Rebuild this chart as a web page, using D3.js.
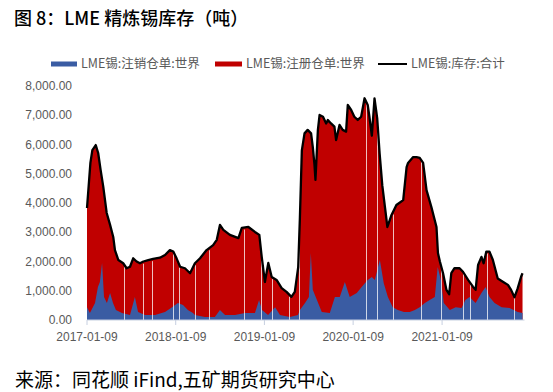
<!DOCTYPE html>
<html>
<head>
<meta charset="utf-8">
<script src="https://cdn.jsdelivr.net/npm/d3@7"></script>
<style>
  body { margin: 0; background: #fff; }
  svg text { font-family: "Liberation Sans", Arial, sans-serif; }
  .cjk { font-family: "Noto Sans CJK SC", sans-serif; }
</style>
</head>
<body>
<svg id="chart" width="553" height="392"></svg>
<script>
// LME锡:库存:合计 (total stock)
const totalDates = [
  "2017-01-09", "2017-01-23", "2017-01-31", "2017-02-14", "2017-02-24", "2017-03-06", "2017-03-17",
  "2017-03-31", "2017-04-14", "2017-04-27", "2017-05-04", "2017-05-18", "2017-06-07", "2017-06-21",
  "2017-07-05", "2017-07-18", "2017-08-01", "2017-08-15", "2017-08-29", "2017-09-18", "2017-10-08",
  "2017-11-05", "2017-11-26", "2017-12-16", "2017-12-30", "2018-01-13", "2018-01-27", "2018-02-16",
  "2018-03-09", "2018-03-29", "2018-04-19", "2018-05-16", "2018-06-12", "2018-06-27", "2018-07-10",
  "2018-07-24", "2018-08-20", "2018-09-24", "2018-10-08", "2018-11-04", "2018-12-01", "2018-12-19",
  "2018-12-29", "2019-01-11", "2019-01-25", "2019-02-08", "2019-02-28", "2019-03-21", "2019-04-10",
  "2019-04-30", "2019-05-14", "2019-05-28", "2019-06-04", "2019-06-12", "2019-06-23", "2019-07-06",
  "2019-07-20", "2019-07-27", "2019-08-03", "2019-08-07", "2019-08-17", "2019-08-24", "2019-09-07",
  "2019-09-20", "2019-09-27", "2019-10-10", "2019-10-24", "2019-10-31", "2019-11-14", "2019-11-27",
  "2019-12-11", "2019-12-18", "2020-01-01", "2020-01-14", "2020-01-28", "2020-02-11", "2020-02-25",
  "2020-03-09", "2020-03-16", "2020-03-26", "2020-04-06", "2020-04-17", "2020-04-27", "2020-05-08",
  "2020-05-29", "2020-06-08", "2020-06-15", "2020-07-05", "2020-08-02", "2020-08-16", "2020-08-22",
  "2020-09-12", "2020-09-26", "2020-10-09", "2020-10-23", "2020-11-06", "2020-11-26", "2020-12-17",
  "2020-12-23", "2020-12-31", "2021-01-13", "2021-01-27", "2021-02-07", "2021-02-16", "2021-03-01",
  "2021-03-22", "2021-04-05", "2021-04-26", "2021-05-16", "2021-05-27", "2021-06-06", "2021-06-20",
  "2021-06-29", "2021-07-10", "2021-07-23", "2021-08-06", "2021-08-26", "2021-09-16", "2021-10-07",
  "2021-10-20", "2021-11-03", "2021-11-16", "2021-11-30", "2021-12-06"
];
const totalValues = [
  3830, 5370, 5810, 5980, 5710, 5130, 4550,
  3660, 3250, 2840, 2390, 2050, 1940, 1770,
  1820, 2110, 2000, 1940, 2000, 2050, 2090,
  2130, 2220, 2390, 2340, 2100, 1820, 1770,
  1600, 1940, 2110, 2390, 2560, 2740, 3250,
  3080, 2910, 2800, 3150, 3180, 3010, 2910,
  2150, 1300, 1950, 1470, 1370, 1090, 960,
  790, 960, 1810, 3500, 5800, 6380, 6500,
  6380, 5920, 5300, 4790, 6500, 7010, 6950,
  6720, 6840, 6720, 6610, 6150, 6670, 6500,
  6440, 7350, 7180, 6950, 6840, 6950, 7580,
  7350, 6950, 6300, 7580, 6900, 5700, 4600,
  3180, 3420, 3590, 3930, 4100, 5230, 5370,
  5570, 5570, 5540, 5370, 4440, 3860, 3180,
  2290, 2000, 1600, 1030, 880, 1600, 1770,
  1770, 1650, 1370, 1140, 1030, 1880, 2160,
  1940, 2340, 2340, 2050, 1420, 1310, 1200,
  1030, 780, 1080, 1480, 1600
];

// LME锡:注销仓单:世界 (cancelled warrants)
const cancelDates = [
  "2017-01-09", "2017-01-21", "2017-02-11", "2017-02-23", "2017-03-03", "2017-03-12", "2017-03-20",
  "2017-04-01", "2017-04-14", "2017-04-26", "2017-05-08", "2017-06-02", "2017-07-05", "2017-07-25",
  "2017-08-07", "2017-09-05", "2017-10-16", "2017-11-26", "2017-12-25", "2018-01-18", "2018-02-08",
  "2018-02-28", "2018-03-21", "2018-03-29", "2018-05-09", "2018-06-19", "2018-07-10", "2018-07-31",
  "2018-09-10", "2018-10-21", "2018-12-01", "2018-12-18", "2018-12-30", "2019-01-24", "2019-02-22",
  "2019-03-14", "2019-04-24", "2019-05-27", "2019-06-04", "2019-06-25", "2019-07-11", "2019-07-19",
  "2019-07-27", "2019-08-13", "2019-09-02", "2019-10-05", "2019-10-26", "2019-11-15", "2019-12-06",
  "2019-12-26", "2020-01-24", "2020-02-13", "2020-03-09", "2020-03-26", "2020-04-07", "2020-04-28",
  "2020-05-14", "2020-05-31", "2020-06-20", "2020-07-11", "2020-08-05", "2020-08-29", "2020-09-19",
  "2020-10-09", "2020-10-30", "2020-11-19", "2020-12-10", "2020-12-22", "2021-01-04", "2021-01-16",
  "2021-02-10", "2021-03-06", "2021-03-30", "2021-04-15", "2021-05-02", "2021-05-27", "2021-06-20",
  "2021-07-07", "2021-07-23", "2021-08-13", "2021-09-11", "2021-10-14", "2021-11-16", "2021-12-06"
];
const cancelValues = [
  440, 240, 580, 1130, 1300, 1950, 790,
  580, 920, 580, 340, 240, 170, 790,
  270, 170, 170, 270, 440, 580, 510,
  340, 240, 170, 100, 100, 340, 170,
  170, 240, 240, 680, 340, 170, 440,
  170, 100, 170, 340, 580, 790, 2290,
  1030, 680, 270, 240, 790, 790, 1300,
  790, 920, 1130, 1370, 1470, 1370, 2050,
  1260, 790, 440, 340, 270, 270, 340,
  440, 580, 680, 790, 1810, 1370, 580,
  340, 440, 410, 680, 790, 580, 920,
  1130, 790, 580, 440, 410, 270, 240
];

// weeks with a missing value, shown as thin white gaps in the areas
const gapDates = [
  "2017-06-10", "2017-08-27", "2017-10-03", "2017-12-29", "2018-01-22", "2018-03-29", "2018-05-26",
  "2018-10-17", "2018-12-26", "2019-02-09", "2019-04-20", "2019-05-31", "2020-03-01", "2020-04-15",
  "2020-06-20", "2020-10-13", "2021-01-04", "2021-04-04", "2021-05-03", "2021-07-12", "2021-10-30"
];

const yTicks = [0, 1000, 2000, 3000, 4000, 5000, 6000, 7000, 8000];
const xTickLabels = ["2017-01-09", "2018-01-09", "2019-01-09", "2020-01-09", "2021-01-09"];
const legendLabels = ["LME锡:注销仓单:世界", "LME锡:注册仓单:世界", "LME锡:库存:合计"];

const BLUE = "#3a5ca3";
const RED = "#c00000";

const parse = d3.timeParse("%Y-%m-%d");
const total = totalDates.map((d, i) => ({ date: parse(d), value: totalValues[i] }));
const cancelled = cancelDates.map((d, i) => ({ date: parse(d), value: cancelValues[i] }));

const svg = d3.select("#chart");

const x = d3.scaleTime()
  .domain([parse("2017-01-09"), parse("2021-12-10")])
  .range([87, 523.5]);

const y = d3.scaleLinear()
  .domain([0, 8000])
  .range([320, 86]);

// title
svg.append("text")
  .attr("class", "cjk")
  .attr("x", 14)
  .attr("y", 25)
  .attr("font-size", 18)
  .attr("font-weight", 500)
  .attr("fill", "#000")
  .text("图 8：LME 精炼锡库存（吨）");

// legend
const legend = svg.append("g").attr("class", "legend");
const legendItems = [
  { x: 51, w: 26, label: legendLabels[0], color: BLUE, h: 5 },
  { x: 215, w: 27, label: legendLabels[1], color: RED, h: 5 },
  { x: 378, w: 29, label: legendLabels[2], color: "#000", h: 2 }
];
legendItems.forEach((d) => {
  legend.append("rect")
    .attr("x", d.x)
    .attr("y", 64 - d.h / 2)
    .attr("width", d.w)
    .attr("height", d.h)
    .attr("fill", d.color);
  legend.append("text")
    .attr("class", "cjk")
    .attr("x", d.x + d.w + 4)
    .attr("y", 64)
    .attr("dy", "0.35em")
    .attr("font-size", 12.5)
    .attr("fill", "#595959")
    .text(d.label);
});

// y axis labels (no axis line, no gridlines)
svg.append("g")
  .selectAll("text")
  .data(yTicks)
  .join("text")
  .attr("x", 72)
  .attr("y", (d) => y(d))
  .attr("dy", "0.35em")
  .attr("text-anchor", "end")
  .attr("font-size", 12)
  .attr("fill", "#595959")
  .text((d) => d3.format(",.2f")(d));

// areas: red is the full stock, blue the cancelled part at the bottom,
// so what stays red is the registered part
const areaFromZero = d3.area()
  .x((d) => x(d.date))
  .y0(y(0))
  .y1((d) => y(d.value));

svg.append("path")
  .datum(total)
  .attr("d", areaFromZero)
  .attr("fill", RED);

svg.append("path")
  .datum(cancelled)
  .attr("d", areaFromZero)
  .attr("fill", BLUE);

// gaps for missing weeks
const bisect = d3.bisector((d) => d.date).left;
function totalAt(date) {
  const i = Math.max(1, Math.min(total.length - 1, bisect(total, date)));
  const a = total[i - 1];
  const b = total[i];
  const t = (date - a.date) / (b.date - a.date);
  return a.value + (b.value - a.value) * t;
}

svg.append("g")
  .selectAll("line")
  .data(gapDates.map(parse))
  .join("line")
  .attr("x1", (d) => Math.round(x(d)) + 0.5)
  .attr("x2", (d) => Math.round(x(d)) + 0.5)
  .attr("y1", y(0))
  .attr("y2", (d) => y(totalAt(d)) + 2)
  .attr("stroke", "#fff")
  .attr("stroke-opacity", 0.75)
  .attr("stroke-width", 1);

// total line
svg.append("path")
  .datum(total)
  .attr("d", d3.line().x((d) => x(d.date)).y((d) => y(d.value)))
  .attr("fill", "none")
  .attr("stroke", "#000")
  .attr("stroke-width", 2.3)
  .attr("stroke-linejoin", "round");

// x axis
const xAxis = svg.append("g").attr("transform", `translate(0, ${y(0)})`);
xAxis.append("line")
  .attr("x1", x.range()[0])
  .attr("x2", x.range()[1] + 1)
  .attr("stroke", "#c6cfe0")
  .attr("stroke-width", 1);

const ticks = xAxis.selectAll("g.tick")
  .data(xTickLabels)
  .join("g")
  .attr("class", "tick")
  .attr("transform", (d) => `translate(${x(parse(d))}, 0)`);

ticks.append("line")
  .attr("y1", 0)
  .attr("y2", 5)
  .attr("stroke", "#c6cfe0");

ticks.append("text")
  .attr("y", 17)
  .attr("dy", "0.35em")
  .attr("text-anchor", "middle")
  .attr("font-size", 12)
  .attr("fill", "#595959")
  .text((d) => d);

// source
svg.append("text")
  .attr("class", "cjk")
  .attr("x", 15)
  .attr("y", 387)
  .attr("font-size", 19)
  .attr("fill", "#000")
  .text("来源：同花顺 iFind,五矿期货研究中心");
</script>
</body>
</html>
